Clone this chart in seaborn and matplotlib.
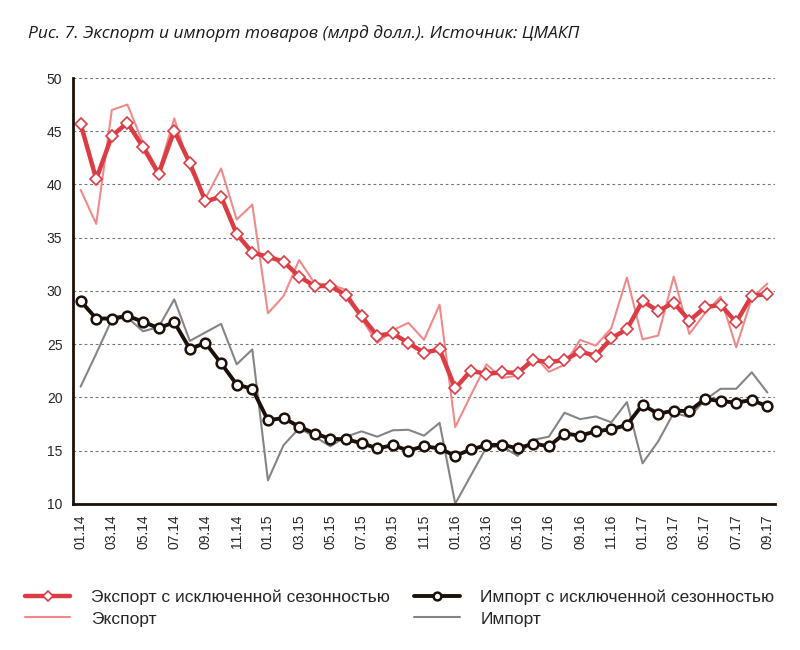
import numpy as np
import pandas as pd
import seaborn as sns
import matplotlib.pyplot as plt

# monthly values, 01.14 .. 09.17 (bln USD)
months = [f"{m:02d}.{y}" for y in (14, 15, 16, 17) for m in range(1, 13)][:45]

export_sa = [45.7, 40.5, 44.55, 45.8, 43.5, 41.0, 45.05, 42.0, 38.4, 38.85, 35.35, 33.6,
             33.2, 32.75, 31.35, 30.45, 30.45, 29.6, 27.6, 25.8, 26.0, 25.1, 24.2, 24.5,
             20.85, 22.5, 22.2, 22.35, 22.3, 23.5, 23.3, 23.5, 24.3, 23.9, 25.55, 26.4,
             29.05, 28.1, 28.9, 27.2, 28.45, 28.7, 27.05, 29.55, 29.7]
export_raw = [39.5, 36.3, 47.0, 47.5, 43.9, 41.2, 46.2, 41.5, 38.7, 41.5, 36.7, 38.1,
              27.9, 29.5, 32.9, 30.7, 30.6, 30.1, 27.4, 25.1, 26.3, 27.0, 25.4, 28.7,
              17.2, 20.2, 23.1, 21.8, 22.05, 24.0, 22.4, 23.05, 25.4, 24.85, 26.5, 31.25,
              25.45, 25.8, 31.35, 25.95, 27.9, 29.45, 24.7, 29.3, 30.7]
import_sa = [29.05, 27.4, 27.4, 27.65, 27.1, 26.5, 27.05, 24.55, 25.1, 23.2, 21.2, 20.8,
             17.85, 18.05, 17.25, 16.6, 16.1, 16.05, 15.7, 15.2, 15.5, 15.0, 15.4, 15.2,
             14.5, 15.1, 15.5, 15.55, 15.2, 15.65, 15.4, 16.6, 16.4, 16.8, 17.0, 17.4,
             19.3, 18.45, 18.75, 18.7, 19.85, 19.65, 19.5, 19.75, 19.15]
import_raw = [21.0, 24.1, 27.3, 27.5, 26.2, 26.6, 29.2, 25.3, 26.1, 26.9, 23.1, 24.5,
              12.2, 15.5, 17.1, 16.3, 15.4, 16.3, 16.8, 16.3, 16.9, 16.95, 16.4, 17.6,
              10.0, 12.65, 15.3, 15.4, 14.5, 16.0, 16.3, 18.55, 17.95, 18.2, 17.65, 19.55,
              13.8, 15.85, 18.55, 18.15, 19.75, 20.8, 20.8, 22.35, 20.45]

labels = ["Экспорт с исключенной сезонностью", "Экспорт",
          "Импорт с исключенной сезонностью", "Импорт"]

sns.set_style("white")
plt.rcParams["font.family"] = ["Liberation Sans", "DejaVu Sans"]

df = pd.DataFrame({"i": np.arange(len(months)), "month": months,
                   "exp_sa": export_sa, "exp": export_raw,
                   "imp_sa": import_sa, "imp": import_raw})

fig = plt.figure(figsize=(8, 6.5), dpi=100)
ax = fig.add_axes([0.091, 0.225, 0.878, 0.655])

red = "#dc3c44"
light_red = "#f08a8a"
dark = "#1c1008"
grey = "#858585"

sns.lineplot(data=df, x="i", y="exp", ax=ax, color=light_red, lw=1.5, label=labels[1])
sns.lineplot(data=df, x="i", y="imp", ax=ax, color=grey, lw=1.5, label=labels[3])
sns.lineplot(data=df, x="i", y="exp_sa", ax=ax, color=red, lw=3.2, marker="D",
             markersize=6.5, markerfacecolor="white", markeredgecolor=red,
             markeredgewidth=1.2, label=labels[0])
sns.lineplot(data=df, x="i", y="imp_sa", ax=ax, color=dark, lw=2.8, marker="o",
             markersize=7, markerfacecolor="white", markeredgecolor=dark,
             markeredgewidth=1.8, label=labels[2])

ax.set_xlim(-0.5, 44.5)
ax.set_ylim(10, 50)
ax.set_yticks(range(10, 51, 5))
ax.set_xticks(df["i"][::2])
ax.set_xticklabels(df["month"][::2], rotation=90, fontsize=10)
ax.set_xticks(np.arange(-0.5, 44, 2), minor=True)
ax.tick_params(axis="x", which="major", length=0, pad=8)
ax.tick_params(axis="x", which="minor", length=4, width=1.2, color=dark, direction="out")
ax.tick_params(axis="y", length=4, width=1.2, color=dark, labelsize=10, direction="out")
ax.set_xlabel("")
ax.set_ylabel("")
ax.yaxis.grid(True, color="#777777", linestyle=(0, (2.5, 2.5)), lw=0.8)
ax.set_axisbelow(True)

sns.despine(ax=ax)
for side in ("left", "bottom"):
    ax.spines[side].set_color(dark)
    ax.spines[side].set_linewidth(2)

handles, labs = ax.get_legend_handles_labels()
order = [labs.index(l) for l in labels]
ax.get_legend().remove()
fig.legend([handles[k] for k in order], labels, ncol=2, frameon=False,
           loc="lower left", bbox_to_anchor=(0.012, 0.012), fontsize=12.5,
           handlelength=2.6, columnspacing=1.4, labelspacing=0.35, handletextpad=1.2,
           markerscale=0.8)

fig.text(0.035, 0.948, "Рис. 7. Экспорт и импорт товаров (млрд долл.). Источник: ЦМАКП",
         fontsize=12.5, style="italic", color="#1a1a1a",
         family=["Open Sans", "DejaVu Sans"], va="center")

fig.savefig("out.png", dpi=100)
